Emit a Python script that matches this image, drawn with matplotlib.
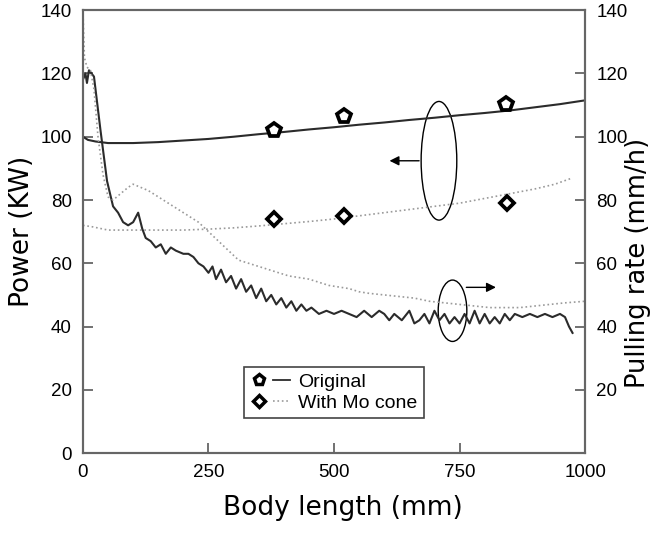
import matplotlib
matplotlib.use('Agg')
import matplotlib.pyplot as plt
from matplotlib.patches import Ellipse
from matplotlib.lines import Line2D
from matplotlib.legend_handler import HandlerTuple

# power (KW) vs body length (mm)
pw_orig_x = [0, 10, 25, 50, 100, 150, 200, 250, 300, 350, 400, 450, 500, 550, 600,
             650, 700, 750, 800, 850, 900, 950, 1000]
pw_orig_y = [100, 99, 98.5, 98, 98, 98.3, 98.8, 99.3, 100, 100.8, 101.5, 102.3, 103,
             103.8, 104.5, 105.3, 106, 106.8, 107.5, 108.3, 109.3, 110.3, 111.5]

pw_mo_x = [0, 20, 50, 100, 150, 200, 250, 300, 350, 400, 450, 500, 550, 600, 650,
           700, 750, 800, 850, 900, 940, 975]
pw_mo_y = [72, 71.5, 70.5, 70.5, 70.5, 70.5, 70.8, 71.2, 71.8, 72.5, 73.2, 74, 75,
           76, 77, 78, 79, 80.5, 82, 83.5, 85, 87]

# pulling rate (mm/h)
pr_orig_x = [0, 5, 8, 12, 22, 35, 48, 60, 70, 80, 90, 100, 110, 118, 125, 135, 145,
             155, 165, 175, 185, 200, 210, 220, 230, 240, 250, 258, 265, 275, 285, 295,
             305, 315, 325, 335, 345, 355, 365, 375, 385, 395, 405, 415, 425, 435, 445,
             455, 470, 485, 500, 515, 530, 545, 560, 575, 590, 600, 610, 620, 635, 650,
             660, 670, 680, 690, 700, 710, 720, 730, 740, 750, 760, 770, 780, 790, 800,
             810, 820, 830, 840, 850, 860, 875, 890, 905, 920, 935, 950, 960, 968, 975]
pr_orig_y = [118, 120, 117, 121, 119, 102, 86, 78, 76, 73, 72, 73, 76, 71, 68, 67, 65,
             66, 63, 65, 64, 63, 63, 62, 60, 59, 57, 59, 55, 58, 54, 56,
             52, 55, 51, 53, 49, 52, 48, 50, 47, 49, 46, 48, 45, 47, 45,
             46, 44, 45, 44, 45, 44, 43, 45, 43, 45, 44, 42, 44, 42, 45,
             41, 42, 44, 41, 45, 42, 44, 41, 43, 41, 44, 41, 45, 41, 44,
             41, 43, 41, 44, 42, 44, 43, 44, 43, 44, 43, 44, 43, 40, 38]

pr_mo_x = [0, 3, 8, 15, 22, 30, 40, 50, 60, 75, 90, 100, 115, 130, 150, 170, 190, 210,
           230, 250, 270, 290, 310, 330, 350, 370, 390, 410, 430, 450, 470, 490, 510,
           530, 550, 570, 600, 630, 660, 690, 720, 750, 780, 810, 840, 870, 900, 930,
           960, 1000]
pr_mo_y = [140, 125, 122, 121, 115, 100, 88, 81, 80, 82, 84, 85, 84, 83, 81, 79, 77, 75,
           73, 70, 67, 64, 61, 60, 59, 58, 57, 56, 55.5, 55, 54, 53, 52.5,
           52, 51, 50.5, 50, 49.5, 49, 48, 47.5, 47, 46.5, 46, 46, 46, 46.5, 47,
           47.5, 48]

mk_orig_x = [380, 520, 842]
mk_orig_y = [102, 106.5, 110.5]
mk_mo_x = [380, 520, 845]
mk_mo_y = [74, 75, 79]

dark = '#2b2b2b'
light = '#9a9a9a'
spine_c = '#666666'

fig = plt.figure(figsize=(6.53, 5.35), dpi=100)
ax = fig.add_axes([0.127, 0.153, 0.769, 0.828])
ax2 = ax.twinx()

ax.plot(pw_orig_x, pw_orig_y, color=dark, lw=1.5)
ax.plot(pw_mo_x, pw_mo_y, color=light, lw=1.2, ls=':')
ax2.plot(pr_orig_x, pr_orig_y, color=dark, lw=1.5)
ax2.plot(pr_mo_x, pr_mo_y, color=light, lw=1.2, ls=':')

ax.plot(mk_orig_x, mk_orig_y, ls='none', marker='p', ms=10, mfc='white', mec='black', mew=2.7)
ax.plot(mk_mo_x, mk_mo_y, ls='none', marker='D', ms=7.5, mfc='white', mec='black', mew=2.7)

for a in (ax, ax2):
    a.set_xlim(0, 1000)
    a.set_ylim(0, 140)
    for s in a.spines.values():
        s.set_color(spine_c)
        s.set_linewidth(1.5)

ax.set_xticks([0, 250, 500, 750, 1000])
ax.set_yticks([0, 20, 40, 60, 80, 100, 120, 140])
ax2.set_yticks([20, 40, 60, 80, 100, 120, 140])
ax.tick_params(direction='in', length=7, width=1.3, color=spine_c, labelsize=13.5, pad=8)
ax2.tick_params(direction='in', length=7, width=1.3, color=spine_c, labelsize=13.5, pad=8)
for lab in ax.get_xticklabels() + ax.get_yticklabels() + ax2.get_yticklabels():
    lab.set_family('Liberation Sans')

ax.set_xlabel('Body length (mm)', fontsize=19, labelpad=14)
ax.xaxis.set_label_coords(0.518, -0.095)
ax.set_ylabel('Power (KW)', fontsize=19, labelpad=4)
ax2.set_ylabel('Pulling rate (mm/h)', fontsize=18.5)
ax2.yaxis.set_label_coords(1.08, 0.43)

# annotation ellipses and arrows
ax.add_patch(Ellipse((709, 92.4), 71, 37.5, fill=False, ec='black', lw=1))
ax.annotate('', xy=(605, 92.4), xytext=(675, 92.4),
            arrowprops=dict(arrowstyle='-|>', color='black', lw=1, mutation_scale=14))
ax.add_patch(Ellipse((736, 45), 57, 19.4, fill=False, ec='black', lw=1))
ax.annotate('', xy=(828, 52.4), xytext=(758, 52.4),
            arrowprops=dict(arrowstyle='-|>', color='black', lw=1, mutation_scale=14))

h1 = (Line2D([], [], ls='none', marker='p', ms=8, mfc='white', mec='black', mew=2.5),
      Line2D([], [], color=dark, lw=1.3))
h2 = (Line2D([], [], ls='none', marker='D', ms=6, mfc='white', mec='black', mew=2.5),
      Line2D([], [], color=light, lw=1.2, ls=':'))
leg = ax.legend([h1, h2], ['Original', 'With Mo cone'],
                handler_map={tuple: HandlerTuple(ndivide=None, pad=0.3)},
                loc='upper left', bbox_to_anchor=(0.302, 0.217), fancybox=False,
                edgecolor='#444444', framealpha=1, handlelength=2.0,
                handletextpad=0.4, borderpad=0.35, labelspacing=0.15,
                prop={'family': 'Liberation Sans', 'size': 14})
leg.get_frame().set_linewidth(1.2)

fig.savefig('out.png', dpi=100)
